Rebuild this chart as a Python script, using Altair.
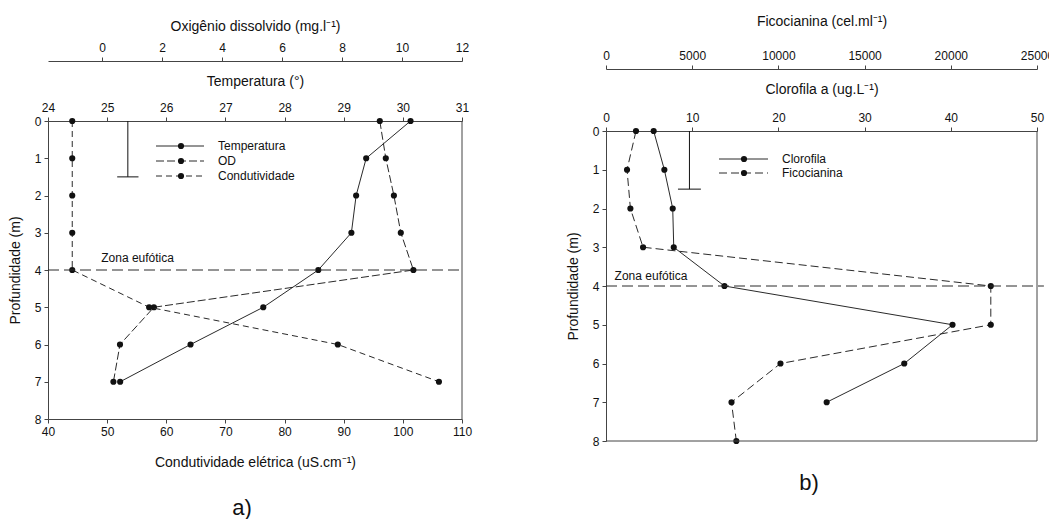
import altair as alt
import pandas as pd

# ---------------- data ----------------
prof_a = [0, 1, 2, 3, 4, 5, 6, 7]
temperatura = [30.13, 29.38, 29.21, 29.13, 28.57, 27.64, 26.41, 25.22]
oxigenio = [9.26, 9.46, 9.73, 9.96, 10.38, 1.73, 0.60, 0.38]
condutividade = [44.1, 44.1, 44.1, 44.1, 44.1, 57.1, 89.0, 106.1]

prof_clorofila = [0, 1, 2, 3, 4, 5, 6, 7]
clorofila = [5.53, 6.77, 7.74, 7.86, 13.74, 40.2, 34.6, 25.6]
prof_ficocianina = [0, 1, 2, 3, 4, 5, 6, 7, 8]
ficocianina = [1740, 1220, 1415, 2150, 22320, 22320, 10120, 7280, 7560]

zona_eufotica = 4
# stray error bar at the top of each panel: x position, depth reached, cap half-width
barra_a = [25.35, 1.5, 0.18]
barra_b = [9.68, 1.5, 1.33]
# position of the "Zona eufótica" label (x in panel units, depth)
rotulo_a = [24.9, 3.68]
rotulo_b = [1.0, 3.73]

temp_ticks = list(range(24, 32))
od_ticks = list(range(0, 13, 2))
cond_ticks = list(range(40, 111, 10))
clor_ticks = list(range(0, 51, 10))
fico_ticks = list(range(0, 25001, 5000))
prof_ticks = list(range(0, 9))

legenda_a = ["Temperatura", "OD", "Condutividade"]
legenda_b = ["Clorofila", "Ficocianina"]

# ---------------- style ----------------
FONT = "Liberation Sans"
INK = "#111111"
LINE = "#2a2a2a"
AXC = "#444444"
W_A, H_A = 414, 298
W_B, H_B = 431, 320
B_TOP = 10
PT = 38


def ax(**kw):
    base = dict(domainColor=AXC, tickColor=AXC, labelColor=INK, titleColor=INK,
                labelFont=FONT, titleFont=FONT, labelFontSize=12, titleFontSize=14,
                titleFontWeight="normal", tickSize=4, grid=False, domainWidth=1,
                tickWidth=1, labelPadding=3, labelFlush=False, labelOverlap=False,
                labelBound=False)
    base.update(kw)
    return alt.Axis(**base)


def perfil(df, campo, yfield, escala, eixo, y_enc, dash=None):
    kw = dict(color=LINE, strokeWidth=1,
              point=alt.OverlayMarkDef(filled=True, color=INK, size=PT, opacity=1))
    if dash:
        kw["strokeDash"] = dash
    return alt.Chart(df).mark_line(**kw).encode(
        x=alt.X(f"{campo}:Q", scale=escala, axis=eixo),
        y=y_enc,
        order=alt.Order(f"{yfield}:Q"),
    )


def legenda(nomes, dashes, x0, x1, xp, xt, ys):
    out = []
    for nome, dash, yy in zip(nomes, dashes, ys):
        d = pd.DataFrame({"label": [nome]})
        kw = dict(color=LINE, strokeWidth=1)
        if dash:
            kw["strokeDash"] = dash
        out.append(alt.Chart(d).mark_rule(**kw).encode(
            x=alt.value(x0), x2=alt.value(x1), y=alt.value(yy)))
        out.append(alt.Chart(d).mark_point(filled=True, color=INK, size=PT, opacity=1).encode(
            x=alt.value(xp), y=alt.value(yy)))
        out.append(alt.Chart(d).mark_text(align="left", baseline="middle", font=FONT,
                                          fontSize=12, color=INK).encode(
            x=alt.value(xt), y=alt.value(yy), text="label:N"))
    return out


# ---------------- panel a ----------------
dfa = pd.DataFrame({"prof": prof_a, "temp": temperatura, "od": oxigenio,
                    "cond": condutividade})
sc_temp = alt.Scale(domain=[24, 31], nice=False, zero=False)
sc_od = alt.Scale(domain=[-1.8, 12], nice=False, zero=False)
sc_cond = alt.Scale(domain=[40, 110], nice=False, zero=False)
sc_pa = alt.Scale(domain=[0, 8], reverse=True, nice=False, zero=False)

eixo_pa = ax(orient="left", values=prof_ticks, title="Profundidade (m)", titlePadding=12)


def ya(f="prof"):
    return alt.Y(f"{f}:Q", scale=sc_pa, axis=eixo_pa)


a_temp = perfil(dfa, "temp", "prof", sc_temp,
                ax(orient="top", values=temp_ticks, title="Temperatura (°)",
                   titlePadding=13), ya())
a_od = perfil(dfa, "od", "prof", sc_od,
              ax(orient="top", offset=60, values=od_ticks,
                 title="Oxigênio dissolvido (mg.l⁻¹)", titlePadding=8), ya(), [8, 3])
a_cond = perfil(dfa, "cond", "prof", sc_cond,
                ax(orient="bottom", values=cond_ticks,
                   title="Condutividade elétrica (uS.cm⁻¹)", labelPadding=3,
                   titlePadding=18), ya(), [6, 4])

zona_a = alt.Chart(pd.DataFrame({"prof": [zona_eufotica], "x1": [24], "x2": [31]})).mark_rule(
    color=LINE, strokeWidth=1, strokeDash=[11, 5]).encode(
    x=alt.X("x1:Q", scale=sc_temp, axis=None), x2="x2:Q", y=ya())
borda_a = alt.Chart(pd.DataFrame({"x": [31], "prof": [0], "p2": [8]})).mark_rule(
    color=AXC, strokeWidth=1).encode(
    x=alt.X("x:Q", scale=sc_temp, axis=None), y=ya(), y2="p2:Q")
barv_a = alt.Chart(pd.DataFrame({"x": [barra_a[0]], "prof": [0], "p2": [barra_a[1]]})).mark_rule(
    color=INK, strokeWidth=1).encode(
    x=alt.X("x:Q", scale=sc_temp, axis=None), y=ya(), y2="p2:Q")
barh_a = alt.Chart(pd.DataFrame({"x1": [barra_a[0] - barra_a[2]], "x2": [barra_a[0] + barra_a[2]],
                                 "prof": [barra_a[1]]})).mark_rule(color=INK, strokeWidth=1).encode(
    x=alt.X("x1:Q", scale=sc_temp, axis=None), x2="x2:Q", y=ya())
txt_a = alt.Chart(pd.DataFrame({"x": [rotulo_a[0]], "prof": [rotulo_a[1]],
                                "t": ["Zona eufótica"]})).mark_text(
    align="left", baseline="middle", font=FONT, fontSize=12, color=INK).encode(
    x=alt.X("x:Q", scale=sc_temp, axis=None), y=ya(), text="t:N")
cap_a = alt.Chart(pd.DataFrame({"t": ["a)"]})).mark_text(
    align="center", baseline="middle", font=FONT, fontSize=22, color=INK).encode(
    x=alt.value(194), y=alt.value(387), text="t:N")

leg_a = legenda(legenda_a, [None, [8, 3], [6, 4]], 108, 156, 133, 170, [25, 40, 55])

painel_a = alt.layer(a_temp, a_od, a_cond, zona_a, borda_a, barv_a, barh_a, txt_a, cap_a,
                     *leg_a).resolve_scale(x="independent").properties(width=W_A, height=H_A)

# ---------------- panel b ----------------
dfc = pd.DataFrame({"prof": prof_clorofila, "clor": clorofila})
dff = pd.DataFrame({"prof": prof_ficocianina, "fico": ficocianina})
sc_clor = alt.Scale(domain=[0, 50], nice=False, zero=False)
sc_fico = alt.Scale(domain=[0, 25000], nice=False, zero=False)
sc_pb = alt.Scale(domain=[0, 8], range=[B_TOP, H_B], nice=False, zero=False)

eixo_pb = ax(orient="left", values=prof_ticks, title="Profundidade (m)", titlePadding=12)


def yb(f="prof"):
    return alt.Y(f"{f}:Q", scale=sc_pb, axis=eixo_pb)


b_clor = perfil(dfc, "clor", "prof", sc_clor,
                ax(orient="top", offset=-B_TOP, values=clor_ticks,
                   title="Clorofila a (ug.L⁻¹)", titlePadding=15), yb())
b_fico = perfil(dff, "fico", "prof", sc_fico,
                ax(orient="top", offset=52, values=fico_ticks, format="d",
                   title="Ficocianina (cel.ml⁻¹)", titlePadding=21), yb(), [8, 4])

zona_b = alt.Chart(pd.DataFrame({"prof": [zona_eufotica], "x1": [0], "x2": [50.8]})).mark_rule(
    color=LINE, strokeWidth=1, strokeDash=[11, 5], clip=False).encode(
    x=alt.X("x1:Q", scale=sc_clor, axis=None), x2="x2:Q", y=yb())
borda_b = alt.Chart(pd.DataFrame({"x": [50], "prof": [0], "p2": [8]})).mark_rule(
    color=AXC, strokeWidth=1).encode(
    x=alt.X("x:Q", scale=sc_clor, axis=None), y=yb(), y2="p2:Q")
base_b = alt.Chart(pd.DataFrame({"x1": [0], "x2": [50], "prof": [8]})).mark_rule(
    color=AXC, strokeWidth=1).encode(
    x=alt.X("x1:Q", scale=sc_clor, axis=None), x2="x2:Q", y=yb())
barv_b = alt.Chart(pd.DataFrame({"x": [barra_b[0]], "prof": [0], "p2": [barra_b[1]]})).mark_rule(
    color=INK, strokeWidth=1).encode(
    x=alt.X("x:Q", scale=sc_clor, axis=None), y=yb(), y2="p2:Q")
barh_b = alt.Chart(pd.DataFrame({"x1": [barra_b[0] - barra_b[2]], "x2": [barra_b[0] + barra_b[2]],
                                 "prof": [barra_b[1]]})).mark_rule(color=INK, strokeWidth=1).encode(
    x=alt.X("x1:Q", scale=sc_clor, axis=None), x2="x2:Q", y=yb())
txt_b = alt.Chart(pd.DataFrame({"x": [rotulo_b[0]], "prof": [rotulo_b[1]],
                                "t": ["Zona eufótica"]})).mark_text(
    align="left", baseline="middle", font=FONT, fontSize=12, color=INK).encode(
    x=alt.X("x:Q", scale=sc_clor, axis=None), y=yb(), text="t:N")
cap_b = alt.Chart(pd.DataFrame({"t": ["b)"]})).mark_text(
    align="center", baseline="middle", font=FONT, fontSize=22, color=INK).encode(
    x=alt.value(203), y=alt.value(362), text="t:N")

leg_b = legenda(legenda_b, [None, [8, 4]], 113, 162, 138, 176, [38, 52])

painel_b = alt.layer(b_clor, b_fico, zona_b, borda_b, base_b, barv_b, barh_b, txt_b, cap_b,
                     *leg_b).resolve_scale(x="independent").properties(width=W_B, height=H_B)

chart = alt.hconcat(painel_a, painel_b, spacing=94).configure_view(stroke=None).properties(
    padding={"left": 0, "top": 6, "right": -5, "bottom": 0},
    background="white",
)

chart.save("out.html", embed_options={"renderer": "svg", "actions": False})
